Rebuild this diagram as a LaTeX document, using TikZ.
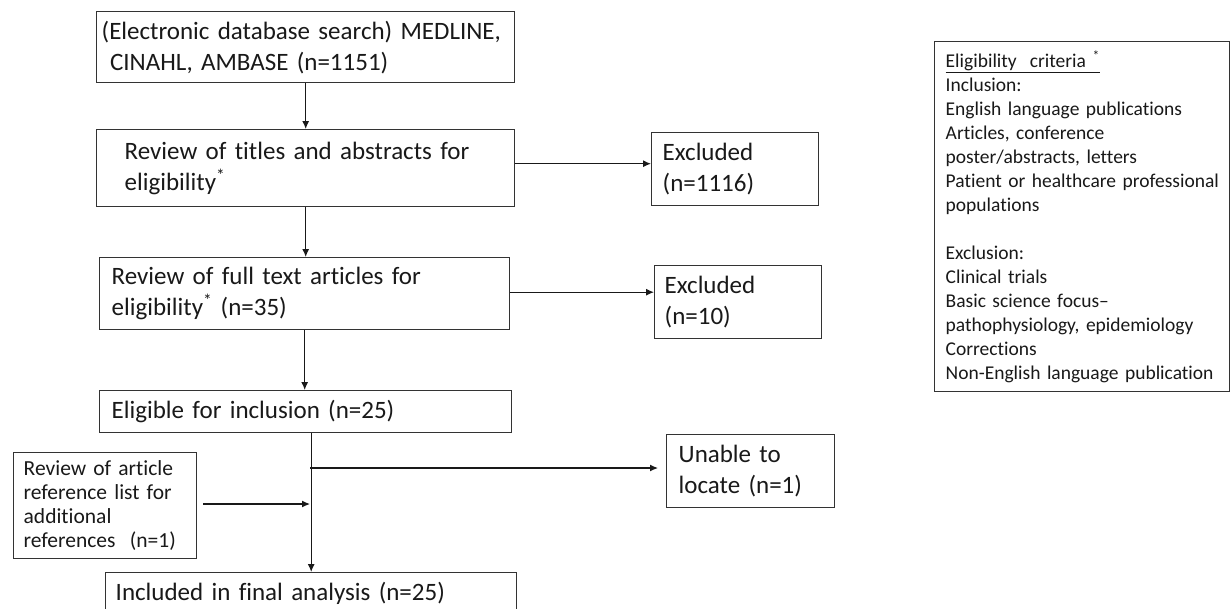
\documentclass[tikz,border=0pt]{standalone}
\usepackage{fontspec}
\setmainfont{Carlito}[Ligatures=NoCommon]
\usetikzlibrary{arrows.meta,calc}
\tikzset{
  box/.style={draw=black!80, line width=1.4pt, anchor=north west, inner ysep=0pt,
    align=left, font=\fontsize{25}{31}\selectfont, text=black!90},
  smallbox/.style={box, font=\fontsize{21.5}{24}\selectfont},
  critbox/.style={box, font=\fontsize{19.5}{24}\selectfont},
  arr/.style={line width=1.2pt, draw=black!90, -{Latex[length=8pt,width=7pt]}},
  ln/.style={line width=1.2pt, draw=black!90}
}
\begin{document}
\begin{tikzpicture}[x=1pt,y=-1pt]
\useasboundingbox (0,0) rectangle (1231,608);
\clip (0,0) rectangle (1231,608);
\fill[white] (0,0) rectangle (1231,608);

\node[box, minimum width=418pt, minimum height=71pt, inner xsep=5pt, text width=408pt] (b1) at (96,11)
  {\mbox{(Electronic database search) MEDLINE,}\\\mbox{ CINAHL, AMBASE (n=1151)}};
\node[box, minimum width=418pt, minimum height=77pt, inner xsep=28pt, text width=362pt] (b2) at (96,129)
  {\mbox{Review of titles and abstracts for}\\\mbox{eligibility\textsuperscript{*}}};
\node[box, minimum width=410pt, minimum height=72pt, inner xsep=12pt, text width=386pt] (b3) at (99,257)
  {\mbox{Review of full text articles for}\\\mbox{eligibility\textsuperscript{*} (n=35)}};
\node[box, minimum width=412pt, minimum height=42pt, inner xsep=12pt, text width=388pt] (b4) at (99,390)
  {\mbox{Eligible for inclusion (n=25)}};
\node[box, minimum width=411pt, minimum height=42pt, inner xsep=10pt, text width=391pt] (b5) at (105,572)
  {\mbox{Included in final analysis (n=25)}};

\node[box, minimum width=167pt, minimum height=73pt, inner xsep=11pt, text width=145pt] (e1) at (651,132)
  {\mbox{Excluded}\\\mbox{(n=1116)}};
\node[box, minimum width=167pt, minimum height=73pt, inner xsep=10pt, text width=147pt] (e2) at (654,265)
  {\mbox{Excluded}\\\mbox{(n=10)}};
\node[box, minimum width=168pt, minimum height=73pt, inner xsep=12pt, text width=144pt] (u) at (666,434)
  {\mbox{Unable to}\\\mbox{locate (n=1)}};

\node[smallbox, minimum width=183pt, minimum height=106pt, inner xsep=10pt, text width=163pt] (ref) at (13,452)
  {\mbox{Review of article}\\\mbox{reference list for}\\\mbox{additional}\\\mbox{references\ \ (n=1)}};

\node[critbox, minimum width=295pt, minimum height=350pt, inner xsep=11pt, text width=273pt] (crit) at (934,41)
  {\mbox{\underline{Eligibility\ \ criteria \textsuperscript{*}}}\\
   \mbox{Inclusion:}\\
   \mbox{English language publications}\\
   \mbox{Articles, conference}\\
   \mbox{poster/abstracts, letters}\\
   \mbox{Patient or healthcare professional}\\
   \mbox{populations}\\
   \mbox{}\\
   \mbox{Exclusion:}\\
   \mbox{Clinical trials}\\
   \mbox{Basic science focus--}\\
   \mbox{pathophysiology, epidemiology}\\
   \mbox{Corrections}\\
   \mbox{Non-English language publication}};

\coordinate (j1) at (310,468);
\coordinate (j2) at (310,504);

\draw[arr] (b1.south) -- (b2.north);
\draw[arr] (b2.south) -- (b2.south |- b3.north);
\draw[arr] (b3.south) -- (b3.south |- b4.north);
\draw[arr] ([yshift=4.5pt]b2.east) -- ([yshift=4.5pt]b2.east -| e1.west);
\draw[arr] ([yshift=1.5pt]b3.east) -- ([yshift=1.5pt]b3.east -| e2.west);
\draw[arr] (b4.south -| b5.north) -- (b5.north);
\draw[arr] (j1) -- ([xshift=-8pt]j1 -| u.west);
\draw[arr] ([xshift=6pt]ref.east |- j2) -- (j2);
\end{tikzpicture}
\end{document}
